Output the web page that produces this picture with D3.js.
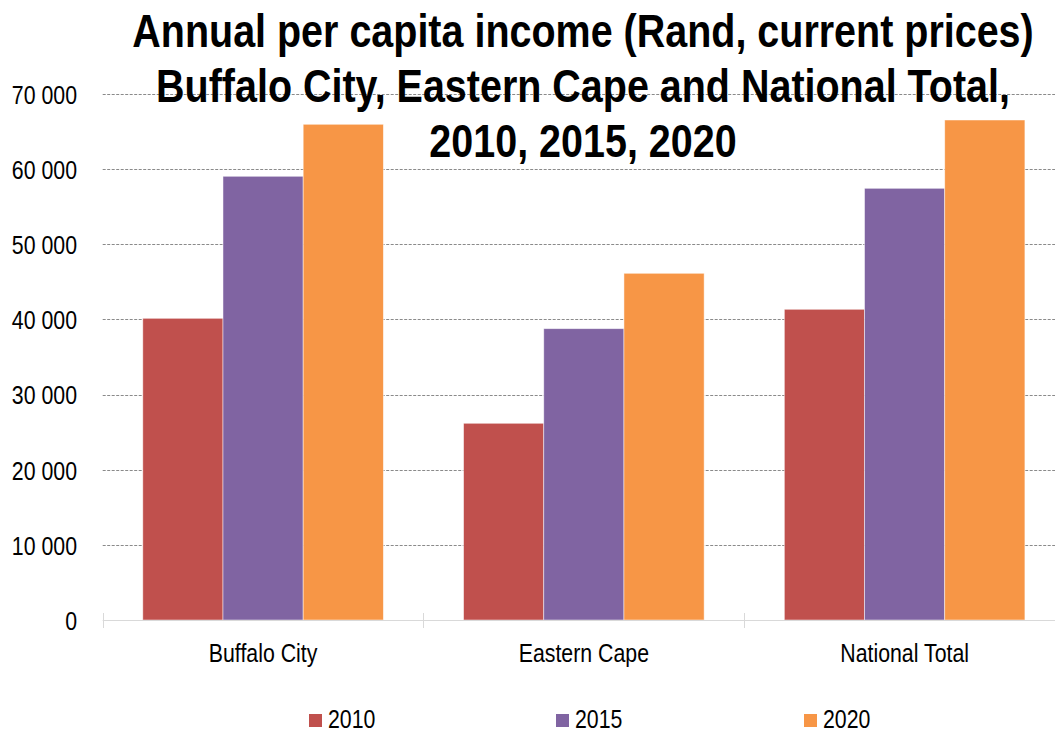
<!doctype html>
<html lang="en">
<head>
    <meta charset="utf-8">
    <title>Annual per capita income</title>
    <script src="https://d3js.org/d3.v7.min.js"></script>
    <style>
        body { margin: 0; background: #fff; }
        svg { display: block; font-family: "Liberation Sans", Arial, sans-serif; }
    </style>
</head>
<body>
    <script>
        // data
        let categories = ['Buffalo City', 'Eastern Cape', 'National Total'];
        let years = ['2010', '2015', '2020'];
        let values2010 = [40150, 26180, 41350];
        let values2015 = [59050, 38770, 57450];
        let values2020 = [65970, 46140, 66540];
        let yTicks = [0, 10000, 20000, 30000, 40000, 50000, 60000, 70000];
        let colors = ['#C0504D', '#8064A2', '#F79646'];
        let titleLines = [
            'Annual per capita income (Rand, current prices)',
            'Buffalo City, Eastern Cape and National Total,',
            '2010, 2015, 2020'
        ];

        let width = 1055, height = 734;
        let plotLeft = 102.7, plotRight = 1065, plotTop = 94, plotBottom = 620;
        // no narrow font installed, so squeeze the regular one
        let narrow = 'scale(0.82,1)';

        let series = [values2010, values2015, values2020];

        let svg = d3.select('body').append('svg')
            .attr('width', width).attr('height', height);

        let x0 = d3.scaleBand().domain(categories).range([plotLeft, plotRight]);
        let x1 = d3.scaleBand().domain(years).range([0, x0.bandwidth()])
            .paddingInner(0).paddingOuter(0.5);
        let y = d3.scaleLinear().domain([0, 70000]).range([plotBottom, plotTop]);

        let fmt = d => d3.format(',')(d).replace(/,/g, ' ');

        // gridlines
        svg.append('g').selectAll('line')
            .data(yTicks.filter(d => d > 0))
            .enter().append('line')
            .attr('x1', plotLeft).attr('x2', width)
            .attr('y1', d => Math.round(y(d)) + 0.5).attr('y2', d => Math.round(y(d)) + 0.5)
            .attr('stroke', '#8a8a8a')
            .attr('stroke-width', 1)
            .attr('stroke-dasharray', '3,1.5');

        // y labels
        let yAxis = d3.axisLeft(y).tickValues(yTicks).tickFormat(fmt).tickSize(0).tickPadding(0);
        let ya = svg.append('g').attr('transform', 'translate(77,0)').call(yAxis);
        ya.attr('font-family', null).attr('font-size', null);
        ya.select('.domain').remove();
        ya.selectAll('text')
            .attr('x', 0)
            .attr('font-size', 26)
            .attr('fill', '#000')
            .attr('dy', '0.36em')
            .attr('transform', narrow);

        // bars
        let groups = svg.append('g').selectAll('g')
            .data(categories)
            .enter().append('g')
            .attr('transform', d => `translate(${x0(d)},0)`);

        groups.selectAll('rect')
            .data((c, i) => years.map((yr, j) => ({ year: yr, value: series[j][i], color: colors[j] })))
            .enter().append('rect')
            .attr('x', d => x1(d.year))
            .attr('width', x1.bandwidth())
            .attr('y', d => y(d.value))
            .attr('height', d => plotBottom - y(d.value))
            .attr('fill', d => d.color)
            .attr('stroke', 'rgba(255,255,255,0.6)')
            .attr('stroke-width', 0.8);

        // x axis with cross ticks
        svg.append('line')
            .attr('x1', plotLeft).attr('x2', width)
            .attr('y1', plotBottom + 0.5).attr('y2', plotBottom + 0.5)
            .attr('stroke', '#d9d9d9');
        svg.append('g').selectAll('line')
            .data(categories)
            .enter().append('line')
            .attr('x1', d => Math.round(x0(d)) + 0.5).attr('x2', d => Math.round(x0(d)) + 0.5)
            .attr('y1', plotBottom - 7).attr('y2', plotBottom + 8)
            .attr('stroke', '#d9d9d9');

        svg.append('g').selectAll('text')
            .data(categories)
            .enter().append('text')
            .attr('transform', d => `translate(${x0(d) + x0.bandwidth() / 2},661.5) ${narrow}`)
            .attr('text-anchor', 'middle')
            .attr('font-size', 26)
            .text(d => d);

        // legend
        let legendX = [309, 556, 804];
        let leg = svg.append('g').selectAll('g')
            .data(years)
            .enter().append('g')
            .attr('transform', (d, i) => `translate(${legendX[i]},0)`);
        leg.append('rect')
            .attr('x', 0).attr('y', 714).attr('width', 13).attr('height', 13)
            .attr('fill', (d, i) => colors[i]);
        leg.append('text')
            .attr('transform', `translate(19,727.5) ${narrow}`)
            .attr('font-size', 26)
            .text(d => d);

        // title
        svg.append('g').selectAll('text')
            .data(titleLines)
            .enter().append('text')
            .attr('transform', (d, i) => `translate(583,${46.7 + i * 55}) scale(0.84,1)`)
            .attr('text-anchor', 'middle')
            .attr('font-size', 47)
            .attr('font-weight', 'bold')
            .text(d => d);
    </script>
</body>
</html>
